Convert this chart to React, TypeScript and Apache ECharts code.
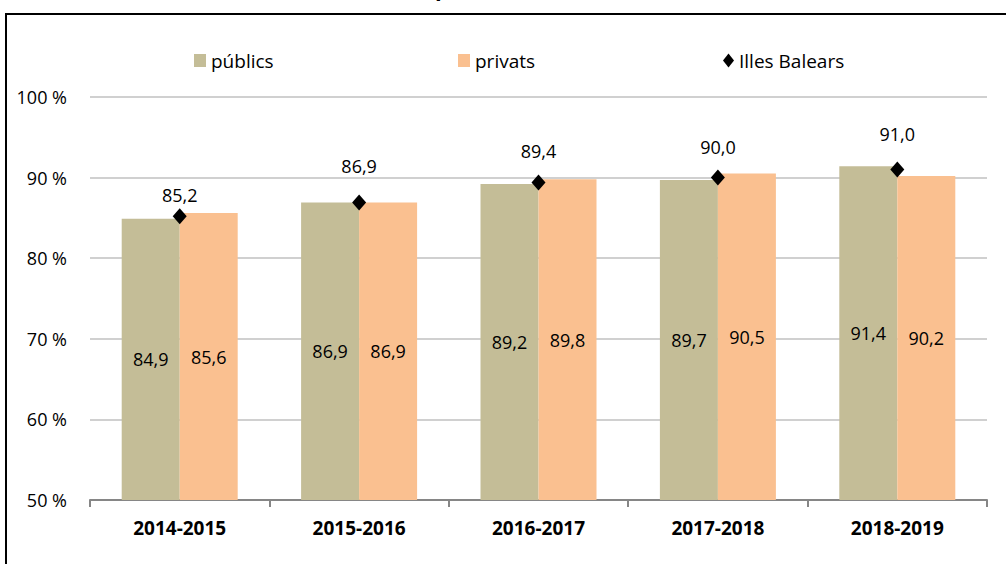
import React, { useEffect, useRef } from "react";
import * as echarts from "echarts";

const categories = ["2014-2015", "2015-2016", "2016-2017", "2017-2018", "2018-2019"];
const publics = [84.9, 86.9, 89.2, 89.7, 91.4];
const privats = [85.6, 86.9, 89.8, 90.5, 90.2];
const illesBalears = [85.2, 86.9, 89.4, 90.0, 91.0];
// label distance above each diamond (style only)
const balearsLabelGap = [4, 20, 14, 14, 19];

const FONT = "Open Sans";
const fmt = (v: number) => v.toFixed(1).replace(".", ",");

export default function App() {
  const ref = useRef<HTMLDivElement>(null);
  useEffect(() => {
    if (!ref.current) return;
    const chart = echarts.init(ref.current, null, { renderer: "svg" });
    const legendText = { fontFamily: FONT, fontSize: 19, color: "#000" };
    chart.setOption({
      animation: false,
      textStyle: { fontFamily: FONT },
      graphic: [
        {
          type: "rect",
          shape: { x: 6, y: 14, width: 1010, height: 570 },
          style: { fill: "none", stroke: "#000", lineWidth: 2 },
          silent: true,
        },
        {
          type: "text",
          x: 435,
          y: -13,
          style: {
            text: "p",
            fontFamily: FONT,
            fontWeight: "bold",
            fontSize: 22,
            fill: "#000",
            verticalAlign: "middle",
            align: "left",
          },
          silent: true,
        },
      ],
      legend: [
        {
          data: [{ name: "públics", icon: "rect" }],
          left: 189,
          top: 46,
          itemWidth: 12,
          itemHeight: 13,
          textStyle: legendText,
        },
        {
          data: [{ name: "privats", icon: "rect" }],
          left: 453,
          top: 46,
          itemWidth: 12,
          itemHeight: 13,
          textStyle: legendText,
        },
        {
          data: [{ name: "Illes Balears", icon: "diamond", itemStyle: { opacity: 1, color: "#000" } }],
          left: 718,
          top: 46,
          itemWidth: 11,
          itemHeight: 14,
          textStyle: legendText,
        },
      ],
      grid: { left: 90, right: 19, top: 97, bottom: 64, containLabel: false },
      xAxis: {
        type: "category",
        data: categories,
        axisLine: { lineStyle: { color: "#868686", width: 2 } },
        axisTick: { show: true, length: 7, lineStyle: { color: "#868686", width: 2 } },
        axisLabel: {
          fontFamily: FONT,
          fontSize: 19,
          fontWeight: "bold",
          color: "#000",
          margin: 18,
        },
      },
      yAxis: {
        type: "value",
        min: 50,
        max: 100,
        interval: 10,
        axisLine: { show: false },
        axisTick: { show: false },
        splitLine: { lineStyle: { color: "#D0D0D0", width: 2 } },
        axisLabel: {
          formatter: "{value} %",
          fontFamily: FONT,
          fontSize: 18,
          color: "#000",
          margin: 23,
        },
      },
      series: [
        {
          name: "públics",
          type: "bar",
          data: publics,
          barWidth: 58,
          barGap: "0%",
          itemStyle: { color: "#C4BD97" },
          label: {
            show: true,
            position: "inside",
            fontFamily: FONT,
            fontSize: 18,
            color: "#000",
            formatter: (p: any) => fmt(p.value),
          },
        },
        {
          name: "privats",
          type: "bar",
          data: privats,
          barWidth: 58,
          barGap: "0%",
          itemStyle: { color: "#FAC090" },
          label: {
            show: true,
            position: "inside",
            fontFamily: FONT,
            fontSize: 18,
            color: "#000",
            formatter: (p: any) => fmt(p.value),
          },
        },
        {
          name: "Illes Balears",
          type: "scatter",
          data: illesBalears.map((v, i) => ({ value: v, label: { distance: balearsLabelGap[i] } })),
          symbol: "diamond",
          symbolSize: [14, 16],
          itemStyle: { color: "#000", opacity: 1 },
          z: 5,
          label: {
            show: true,
            position: "top",
            fontFamily: FONT,
            fontSize: 18,
            color: "#000",
            opacity: 1,
            formatter: (p: any) => fmt(p.value),
          },
        },
      ],
    });
    return () => chart.dispose();
  }, []);
  return <div ref={ref} style={{ width: 1006, height: 564, position: "absolute", left: 0, top: 0 }} />;
}
